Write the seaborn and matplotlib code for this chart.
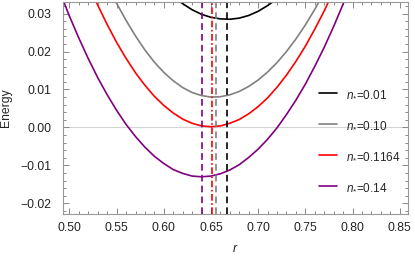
import numpy as np
import pandas as pd
import seaborn as sns
import matplotlib
matplotlib.use("Agg")
import matplotlib.pyplot as plt
from matplotlib.ticker import MultipleLocator, FuncFormatter

# curves (r, Energy)
r_black = [0.61, 0.62, 0.63, 0.64, 0.65, 0.66, 0.67, 0.68, 0.69, 0.70, 0.71, 0.72]
e_black = [0.0345, 0.0326, 0.0310, 0.0298, 0.0290, 0.0286, 0.0285, 0.0288, 0.0295, 0.0306, 0.0321, 0.0339]

r_grey = [0.54, 0.55, 0.56, 0.57, 0.58, 0.59, 0.60, 0.61, 0.62, 0.63, 0.64, 0.65,
          0.66, 0.67, 0.68, 0.69, 0.70, 0.71, 0.72, 0.73, 0.74, 0.75, 0.76, 0.77]
e_grey = [0.0378, 0.0327, 0.0282, 0.0241, 0.0204, 0.0172, 0.0145, 0.0123, 0.0105, 0.0092, 0.0084, 0.0080,
          0.0081, 0.0086, 0.0095, 0.0108, 0.0125, 0.0146, 0.0171, 0.0200, 0.0233, 0.0270, 0.0311, 0.0357]

r_red = [0.52, 0.53, 0.54, 0.55, 0.56, 0.57, 0.58, 0.59, 0.60, 0.61, 0.62, 0.63, 0.64, 0.65,
         0.66, 0.67, 0.68, 0.69, 0.70, 0.71, 0.72, 0.73, 0.74, 0.75, 0.76, 0.77, 0.78]
e_red = [0.0377, 0.0322, 0.0271, 0.0224, 0.0182, 0.0144, 0.0111, 0.0082, 0.0058, 0.0038, 0.0022, 0.0011, 0.0004, 0.0002,
         0.0004, 0.0011, 0.0021, 0.0036, 0.0055, 0.0078, 0.0106, 0.0138, 0.0174, 0.0214, 0.0259, 0.0307, 0.0360]

r_purple = [0.49, 0.50, 0.51, 0.52, 0.53, 0.54, 0.55, 0.56, 0.57, 0.58, 0.59, 0.60, 0.61, 0.62, 0.63, 0.64,
            0.65, 0.66, 0.67, 0.68, 0.69, 0.70, 0.71, 0.72, 0.73, 0.74, 0.75, 0.76, 0.77, 0.78, 0.79, 0.80]
e_purple = [0.0356, 0.0293, 0.0235, 0.0181, 0.0131, 0.0086, 0.0045, 0.0008, -0.0024, -0.0052, -0.0076, -0.0095,
            -0.0111, -0.0121, -0.0128, -0.0130, -0.0128, -0.0122, -0.0112, -0.0098, -0.0079, -0.0057, -0.0031,
            -0.0001, 0.0034, 0.0072, 0.0114, 0.0161, 0.0211, 0.0266, 0.0325, 0.0387]

labels = [r"$n_{*}$=0.01", r"$n_{*}$=0.10", r"$n_{*}$=0.1164", r"$n_{*}$=0.14"]
colors = ["black", "#808080", "#ff0000", "#800080"]
# minima positions (vertical markers)
r_min = [0.6672, 0.6549, 0.6506, 0.6407]
styles = [(0, (4, 2.5)), (0, (4, 2.5)), (0, (4, 1.5, 1, 1.5)), (0, (4, 2.5))]

frames = []
for lab, rr, ee in zip(labels, [r_black, r_grey, r_red, r_purple], [e_black, e_grey, e_red, e_purple]):
    frames.append(pd.DataFrame({"r": rr, "Energy": ee, "n": lab}))
df = pd.concat(frames, ignore_index=True)

sns.set_style("ticks")
plt.rcParams["font.family"] = ["Liberation Sans", "DejaVu Sans"]
plt.rcParams["mathtext.fontset"] = "custom"
plt.rcParams["mathtext.it"] = "Liberation Sans:italic"
plt.rcParams["mathtext.rm"] = "Liberation Sans"

fig = plt.figure(figsize=(4.15, 2.56), dpi=100)
ax = fig.add_axes([0.151, 0.164, 0.831, 0.829])

ax.axhline(0, color="#d4d4d4", lw=0.8, zorder=0)

sns.lineplot(data=df, x="r", y="Energy", hue="n", palette=dict(zip(labels, colors)),
             sort=False, estimator=None, lw=1.2, ax=ax, legend=False)

for x0, c, ls in zip(r_min, colors, styles):
    ax.axvline(x0, color=c, lw=1.2, linestyle=ls)

ax.set_xlim(0.4928, 0.8583)
ax.set_ylim(-0.0228, 0.0331)
ax.xaxis.set_major_locator(MultipleLocator(0.05))
ax.xaxis.set_minor_locator(MultipleLocator(0.01))
ax.yaxis.set_major_locator(MultipleLocator(0.01))
ax.yaxis.set_minor_locator(MultipleLocator(0.002))
fmt = FuncFormatter(lambda v, p: f"{v:.2f}".replace("-", "\u2212"))
ax.xaxis.set_major_formatter(fmt)
ax.yaxis.set_major_formatter(fmt)
ax.tick_params(which="both", direction="in", top=True, right=True, color="#888888",
               labelsize=8.7, labelcolor="#222222", width=0.7)
ax.tick_params(which="major", length=4)
ax.tick_params(axis="y", which="major", pad=8)
ax.tick_params(axis="x", which="major", pad=6)
ax.tick_params(which="minor", length=2)
for s in ax.spines.values():
    s.set_color("#999999")
    s.set_linewidth(0.8)

ax.set_xlabel("$r$", fontsize=9, labelpad=6)
ax.set_ylabel("Energy", fontsize=8.7, labelpad=6)

handles = [plt.Line2D([], [], color=c, lw=1.2) for c in colors]
ax.legend(handles, labels, loc="center left", bbox_to_anchor=(0.742, 0.45),
          bbox_transform=fig.transFigure, frameon=False, fontsize=8.5,
          handlelength=1.6, handletextpad=0.7, labelspacing=1.6)

fig.savefig("out.png", dpi=100)
